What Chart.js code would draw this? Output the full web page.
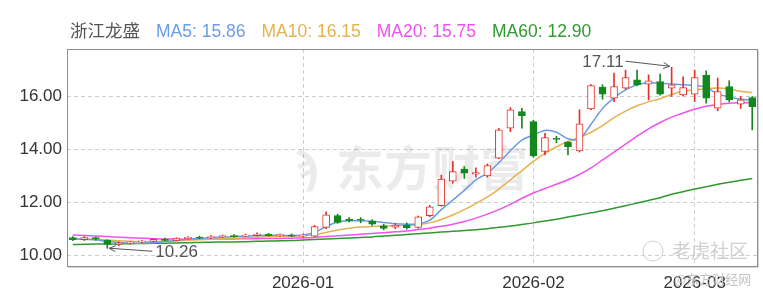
<!DOCTYPE html>
<html>
<head>
<meta charset="utf-8">
<script src="https://cdn.jsdelivr.net/npm/chart.js@4.4.0/dist/chart.umd.min.js"></script>
<style>
  html, body { margin: 0; padding: 0; background: #fff; }
</style>
</head>
<body>
<canvas id="kline" width="763" height="295"></canvas>
<script>
// Daily K-line data
const stockName = "浙江龙盛"
const dates = [
  "2025-12-04", "2025-12-05", "2025-12-08", "2025-12-09", "2025-12-10", "2025-12-11", "2025-12-12",
  "2025-12-15", "2025-12-16", "2025-12-17", "2025-12-18", "2025-12-19",
  "2025-12-22", "2025-12-23", "2025-12-24", "2025-12-25", "2025-12-26",
  "2025-12-29", "2025-12-30", "2025-12-31",
  "2026-01-05", "2026-01-06", "2026-01-07", "2026-01-08", "2026-01-09",
  "2026-01-12", "2026-01-13", "2026-01-14", "2026-01-15", "2026-01-16",
  "2026-01-19", "2026-01-20", "2026-01-21", "2026-01-22", "2026-01-23",
  "2026-01-26", "2026-01-27", "2026-01-28", "2026-01-29", "2026-01-30",
  "2026-02-02", "2026-02-03", "2026-02-04", "2026-02-05", "2026-02-06",
  "2026-02-09", "2026-02-10", "2026-02-11", "2026-02-12", "2026-02-13",
  "2026-02-24", "2026-02-25", "2026-02-26", "2026-02-27",
  "2026-03-02", "2026-03-03", "2026-03-04", "2026-03-05", "2026-03-06", "2026-03-09"
]
const open = [
  10.66, 10.58, 10.66, 10.56, 10.40, 10.46, 10.50, 10.52, 10.60, 10.56,
  10.62, 10.68, 10.66, 10.70, 10.72, 10.72, 10.74, 10.80, 10.74, 10.76,
  10.72, 10.72, 11.05, 11.50, 11.36, 11.34, 11.29, 11.11, 11.06, 11.14,
  11.05, 11.49, 11.87, 12.80, 13.26, 13.06, 13.00, 13.67, 14.80, 15.43,
  15.05, 13.92, 14.42, 14.27, 13.94, 15.53, 16.36, 15.94, 16.32, 16.63,
  16.47, 16.57, 16.32, 16.06, 16.09, 16.80, 15.56, 16.38, 15.71, 15.96
]
const high = [
  10.70, 10.70, 10.68, 10.58, 10.50, 10.52, 10.55, 10.62, 10.64, 10.66,
  10.70, 10.72, 10.74, 10.76, 10.78, 10.80, 10.84, 10.82, 10.80, 10.80,
  10.80, 11.12, 11.64, 11.55, 11.42, 11.42, 11.34, 11.17, 11.20, 11.22,
  11.48, 11.88, 13.03, 13.54, 13.35, 13.30, 13.45, 14.80, 15.58, 15.55,
  15.10, 14.61, 14.50, 14.30, 15.50, 16.45, 16.45, 16.89, 17.00, 17.00,
  16.82, 16.85, 17.11, 16.75, 17.00, 16.97, 16.70, 16.60, 16.00, 16.00
]
const low = [
  10.55, 10.55, 10.56, 10.26, 10.36, 10.42, 10.45, 10.50, 10.54, 10.54,
  10.60, 10.62, 10.62, 10.66, 10.68, 10.70, 10.72, 10.72, 10.70, 10.70,
  10.68, 10.70, 11.00, 11.20, 11.26, 11.22, 11.12, 10.96, 11.00, 10.98,
  11.02, 11.45, 11.85, 12.72, 12.90, 12.95, 12.95, 13.65, 14.67, 14.80,
  13.70, 13.79, 14.25, 13.79, 13.90, 15.50, 15.90, 15.81, 16.28, 16.40,
  15.87, 16.05, 16.00, 16.02, 15.81, 15.75, 15.46, 15.80, 15.55, 14.74
]
const close = [
  10.58, 10.66, 10.60, 10.40, 10.46, 10.50, 10.52, 10.60, 10.56, 10.64,
  10.68, 10.64, 10.70, 10.72, 10.70, 10.76, 10.80, 10.74, 10.76, 10.72,
  10.76, 11.08, 11.52, 11.24, 11.30, 11.32, 11.17, 11.01, 11.14, 11.04,
  11.45, 11.83, 12.88, 13.16, 13.10, 13.12, 13.39, 14.74, 15.50, 15.28,
  13.75, 14.45, 14.38, 14.10, 14.97, 16.42, 16.09, 16.38, 16.72, 16.44,
  16.60, 16.09, 16.44, 16.34, 16.72, 15.94, 16.19, 15.88, 15.88, 15.62
]

// moving averages as drawn in the picture
const ma5 = [
  10.62, 10.60, 10.58, 10.52, 10.48, 10.46, 10.45, 10.47, 10.52, 10.56,
  10.60, 10.63, 10.66, 10.68, 10.70, 10.72, 10.74, 10.75, 10.75, 10.74,
  10.76, 10.86, 11.08, 11.25, 11.30, 11.30, 11.28, 11.23, 11.19, 11.17,
  11.18, 11.32, 11.72, 12.08, 12.45, 12.85, 13.10, 13.50, 13.95, 14.35,
  14.55, 14.72, 14.65, 14.40, 14.40, 14.95, 15.55, 15.95, 16.25, 16.45,
  16.52, 16.50, 16.48, 16.45, 16.42, 16.35, 16.10, 15.98, 15.90, 15.86
]
const ma10 = [
  10.62, 10.61, 10.60, 10.57, 10.54, 10.52, 10.51, 10.51, 10.52, 10.54,
  10.56, 10.58, 10.60, 10.62, 10.64, 10.66, 10.68, 10.70, 10.71, 10.72,
  10.73, 10.78, 10.86, 10.95, 11.02, 11.06, 11.08, 11.10, 11.12, 11.13,
  11.15, 11.22, 11.35, 11.52, 11.72, 11.95, 12.20, 12.50, 12.85, 13.20,
  13.55, 13.85, 14.10, 14.30, 14.45, 14.65, 14.90, 15.20, 15.45, 15.65,
  15.80, 15.92, 16.08, 16.20, 16.26, 16.30, 16.32, 16.28, 16.20, 16.15
]
const ma20 = [
  10.76, 10.74, 10.72, 10.70, 10.68, 10.66, 10.64, 10.62, 10.61, 10.60,
  10.60, 10.60, 10.60, 10.61, 10.61, 10.62, 10.62, 10.63, 10.63, 10.64,
  10.65, 10.67, 10.70, 10.73, 10.76, 10.79, 10.82, 10.85, 10.88, 10.91,
  10.97, 11.02, 11.09, 11.17, 11.27, 11.40, 11.55, 11.72, 11.92, 12.15,
  12.35, 12.52, 12.68, 12.85, 13.05, 13.30, 13.60, 13.90, 14.20, 14.50,
  14.78, 15.02, 15.22, 15.38, 15.52, 15.63, 15.70, 15.75, 15.78, 15.75
]
const ma60 = [
  10.40, 10.41, 10.42, 10.42, 10.43, 10.43, 10.44, 10.45, 10.45, 10.46,
  10.47, 10.48, 10.49, 10.50, 10.50, 10.51, 10.52, 10.53, 10.54, 10.55,
  10.57, 10.59, 10.61, 10.63, 10.65, 10.67, 10.69, 10.72, 10.75, 10.78,
  10.81, 10.84, 10.87, 10.90, 10.93, 10.96, 11.00, 11.05, 11.10, 11.16,
  11.22, 11.29, 11.36, 11.44, 11.52, 11.60, 11.68, 11.77, 11.87, 11.97,
  12.07, 12.17, 12.30, 12.40, 12.50, 12.59, 12.68, 12.76, 12.83, 12.90
]
const maNames = ["MA5", "MA10", "MA20", "MA60"]
const yTicks = [10, 12, 14, 16]
const yMin = 9.55
const yMax = 17.8

// colours
const UP = "#e8302a"
const DOWN = "#14871e"
const maColors = ["#6b9ce8", "#e6b24e", "#f052f0", "#2f9a2f"]
const FONT = 'Arial, "Liberation Sans", "Noto Sans CJK SC", sans-serif'

const isUp = (i) => close[i] >= open[i]
const candleColor = dates.map((d, i) => (isUp(i) ? UP : DOWN))
const bodyFill = dates.map((d, i) => (isUp(i) ? "#ffffff" : DOWN))

// first trading day of each month gets a label + grid line
const monthStart = (i) => i > 0 && dates[i].slice(0, 7) !== dates[i - 1].slice(0, 7)

function arrow(ctx, x1, y1, x2, y2) {
  const a = Math.atan2(y2 - y1, x2 - x1)
  ctx.beginPath()
  ctx.moveTo(x1, y1)
  ctx.lineTo(x2, y2)
  ctx.moveTo(x2, y2)
  ctx.lineTo(x2 - 7 * Math.cos(a - 0.45), y2 - 7 * Math.sin(a - 0.45))
  ctx.moveTo(x2, y2)
  ctx.lineTo(x2 - 7 * Math.cos(a + 0.45), y2 - 7 * Math.sin(a + 0.45))
  ctx.stroke()
}

const overlay = {
  id: "overlay",
  beforeDatasetsDraw(chart) {
    const ctx = chart.ctx
    ctx.save()
    // watermark
    ctx.fillStyle = "rgba(0,0,0,0.08)"
    ctx.textBaseline = "middle"
    ctx.font = 'bold 48px "Noto Sans CJK SC", sans-serif'
    ctx.fillText("东方财富", 336, 168)
    ctx.font = 'italic bold 46px "Noto Sans CJK SC", sans-serif'
    ctx.fillText("ϡ", 292, 166)
    ctx.restore()
  },
  afterDraw(chart) {
    const ctx = chart.ctx
    const area = chart.chartArea
    const xs = chart.scales.x
    const ys = chart.scales.y
    ctx.save()

    // plot frame
    ctx.strokeStyle = "#8e8e8e"
    ctx.lineWidth = 1
    ctx.strokeRect(area.left + 0.5, area.top + 0.5, area.right - area.left - 1, area.bottom - area.top - 1)
    ctx.strokeStyle = "#d4d4d4"
    ctx.beginPath()
    ctx.moveTo(area.left + 1, area.bottom + 0.5)
    ctx.lineTo(area.right + 0.5, area.bottom + 0.5)
    ctx.lineTo(area.right + 0.5, area.top + 1)
    ctx.stroke()

    // header: name + MA values
    ctx.font = "17.5px " + FONT
    ctx.textBaseline = "alphabetic"
    let x = 70
    ctx.fillStyle = "#555"
    ctx.fillText(stockName, x, 37)
    x += ctx.measureText(stockName).width + 16
    const maSeries = [ma5, ma10, ma20, ma60]
    maNames.forEach((name, k) => {
      const s = maSeries[k]
      const txt = name + ": " + s[s.length - 1].toFixed(2)
      ctx.fillStyle = maColors[k]
      ctx.fillText(txt, x, 37)
      x += ctx.measureText(txt).width + 16
    })

    // highest / lowest markers
    ctx.strokeStyle = "#555"
    ctx.fillStyle = "#555"
    ctx.lineWidth = 1
    ctx.font = "17px " + FONT
    ctx.textBaseline = "middle"
    const hi = high.indexOf(Math.max(...high))
    const hx = xs.getPixelForValue(hi)
    const hy = ys.getPixelForValue(high[hi])
    arrow(ctx, hx - 46, hy - 6, hx - 2, hy - 1)
    ctx.textAlign = "right"
    ctx.fillText(high[hi].toFixed(2), hx - 48, hy - 5)

    const lo = low.indexOf(Math.min(...low))
    const lx = xs.getPixelForValue(lo)
    const ly = ys.getPixelForValue(low[lo])
    arrow(ctx, lx + 45, ly + 3, lx + 2, ly)
    ctx.textAlign = "left"
    ctx.fillText(low[lo].toFixed(2), lx + 48, ly + 4)

    // corner watermarks
    ctx.fillStyle = "#cfcfcf"
    ctx.strokeStyle = "#cfcfcf"
    ctx.textAlign = "left"
    ctx.font = '19px "Noto Sans CJK SC", sans-serif'
    ctx.fillText("老虎社区", 672, 251)
    ctx.beginPath()
    ctx.arc(653, 251, 10, 0, Math.PI * 2)
    ctx.stroke()
    ctx.font = '13px "Noto Sans CJK SC", sans-serif'
    ctx.fillStyle = "#c4c4c4"
    ctx.fillText("@东方财经网", 674, 279)
    ctx.restore()
  }
}

new Chart(document.getElementById("kline"), {
  type: "bar",
  data: {
    labels: dates,
    datasets: [
      {
        label: "body",
        data: dates.map((d, i) => [open[i], close[i]]),
        backgroundColor: bodyFill,
        borderColor: candleColor,
        borderWidth: 1,
        borderSkipped: false,
        barThickness: 7,
        minBarLength: 1,
        grouped: false,
        order: 1
      },
      {
        label: "wick",
        data: dates.map((d, i) => [low[i], high[i]]),
        backgroundColor: candleColor,
        barThickness: 1,
        grouped: false,
        order: 2
      },
      ...[ma5, ma10, ma20, ma60].map((s, k) => ({
        type: "line",
        label: maNames[k],
        data: s,
        borderColor: maColors[k],
        borderWidth: 1.5,
        pointRadius: 0,
        tension: 0.3,
        order: 3 + k
      }))
    ]
  },
  options: {
    responsive: false,
    animation: false,
    devicePixelRatio: 1,
    layout: { padding: { top: 49, right: 5, left: 0, bottom: 0 } },
    plugins: {
      legend: { display: false },
      tooltip: { enabled: false }
    },
    scales: {
      x: {
        afterFit: (s) => { s.height = 28 },
        grid: {
          offset: false,
          drawTicks: false,
          color: (c) => (c.tick && monthStart(c.tick.value) ? "#cfcfcf" : "rgba(0,0,0,0)")
        },
        border: { display: false, dash: [4, 3] },
        ticks: {
          autoSkip: false,
          maxRotation: 0,
          padding: 6,
          color: "#333",
          font: { size: 17, family: FONT },
          callback: (v, i) => (monthStart(i) ? dates[i].slice(0, 7) : "")
        }
      },
      y: {
        min: yMin,
        max: yMax,
        afterFit: (s) => { s.width = 67 },
        afterBuildTicks: (s) => { s.ticks = yTicks.map((v) => ({ value: v })) },
        grid: { drawTicks: false, color: "#cfcfcf" },
        border: { display: false, dash: [4, 3] },
        ticks: {
          padding: 5,
          color: "#333",
          font: { size: 17, family: FONT },
          callback: (v) => v.toFixed(2)
        }
      }
    }
  },
  plugins: [overlay]
})
</script>
</body>
</html>
